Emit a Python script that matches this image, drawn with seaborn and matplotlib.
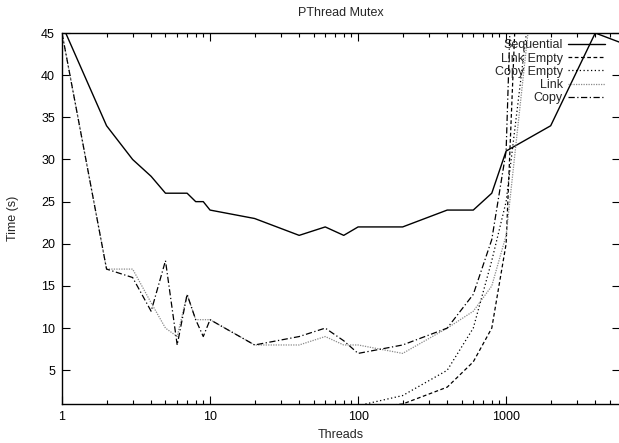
import numpy as np
import pandas as pd
import matplotlib
matplotlib.use("Agg")
import matplotlib.pyplot as plt
import matplotlib.ticker as mticker
import seaborn as sns

threads = [1, 2, 3, 4, 5, 6, 7, 8, 9, 10, 20, 40, 60, 80, 100, 200, 400, 600, 800, 1000, 2000, 4000, 8000]
sequential = [46, 34, 30, 28, 26, 26, 26, 25, 25, 24, 23, 21, 22, 21, 22, 22, 24, 24, 26, 31, 34, 45, 43]
link_empty = [0.3, 0.2, 0.2, 0.2, 0.2, 0.2, 0.2, 0.2, 0.2, 0.2, 0.2, 0.3, 0.3, 0.4, 0.5, 1.0, 3, 6, 10, 20, 150, 400, 800]
copy_empty = [0.3, 0.2, 0.2, 0.2, 0.2, 0.2, 0.2, 0.2, 0.2, 0.2, 0.3, 0.4, 0.5, 0.6, 0.8, 2, 5, 10, 18, 25, 69, 200, 400]
link = [45, 17, 17, 13, 10, 9, 14, 11, 11, 11, 8, 8, 9, 8, 8, 7, 10, 12, 15, 21, 70, 200, 400]
copy = [45, 17, 16, 12, 18, 8, 14, 11, 9, 11, 8, 9, 10, 8.5, 7, 8, 10, 14, 20.5, 31, 200, 400, 800]

series_names = ["Sequential", "Link Empty", "Copy Empty", "Link", "Copy"]
series_vals = [sequential, link_empty, copy_empty, link, copy]

sns.set_style("ticks")
plt.rcParams["font.family"] = ["Liberation Sans", "DejaVu Sans"]

fig = plt.figure(figsize=(6.19, 4.43), dpi=100)
ax = fig.add_axes([62 / 619, 1 - 404 / 443, (619 - 62) / 619 + 0.002, (404 - 33) / 443])

styles = {
    "Sequential": dict(color="black", linestyle="-", linewidth=1.0),
    "Link Empty": dict(color="black", linestyle=(0, (3, 2)), linewidth=0.9),
    "Copy Empty": dict(color="black", linestyle=(0, (1, 2)), linewidth=0.9),
    "Link": dict(color="#8a8a8a", linestyle=(0, (1, 1)), linewidth=0.9),
    "Copy": dict(color="black", linestyle=(0, (5, 2, 1, 2)), linewidth=0.9),
}

for name, vals in zip(series_names, series_vals):
    df = pd.DataFrame({"Threads": threads, "Time": vals})
    sns.lineplot(data=df, x="Threads", y="Time", ax=ax, label=name, **styles[name])

ax.set_xscale("log")
ax.set_xlim(1, 5900)
ax.set_ylim(1, 45)
ax.set_yticks([5, 10, 15, 20, 25, 30, 35, 40, 45])
ax.xaxis.set_major_locator(mticker.LogLocator(base=10, numticks=10))
ax.xaxis.set_minor_locator(mticker.LogLocator(base=10, subs=np.arange(2, 10), numticks=100))
ax.xaxis.set_major_formatter(mticker.FuncFormatter(lambda v, p: f"{int(round(v))}"))
ax.xaxis.set_minor_formatter(mticker.NullFormatter())

ax.tick_params(axis="both", which="both", direction="in", top=True, right=True, labelsize=9, colors="black")
ax.tick_params(axis="both", which="major", length=6, width=0.8, pad=5)
ax.tick_params(axis="x", which="minor", length=3, width=0.8)
for s in ax.spines.values():
    s.set_visible(True)
    s.set_linewidth(1.0)
    s.set_color("black")

ax.set_xlabel("Threads", fontsize=9, labelpad=4)
ax.set_ylabel("Time (s)", fontsize=9, labelpad=16)
ax.set_title("PThread Mutex", fontsize=9, pad=12)

leg = ax.legend(loc="upper right", frameon=False, markerfirst=False, fontsize=9,
                handlelength=3.0, handletextpad=0.4, labelspacing=0.1,
                borderpad=0.0, borderaxespad=0.0, bbox_to_anchor=(0.973, 0.983))

fig.savefig("out.png", dpi=100)
